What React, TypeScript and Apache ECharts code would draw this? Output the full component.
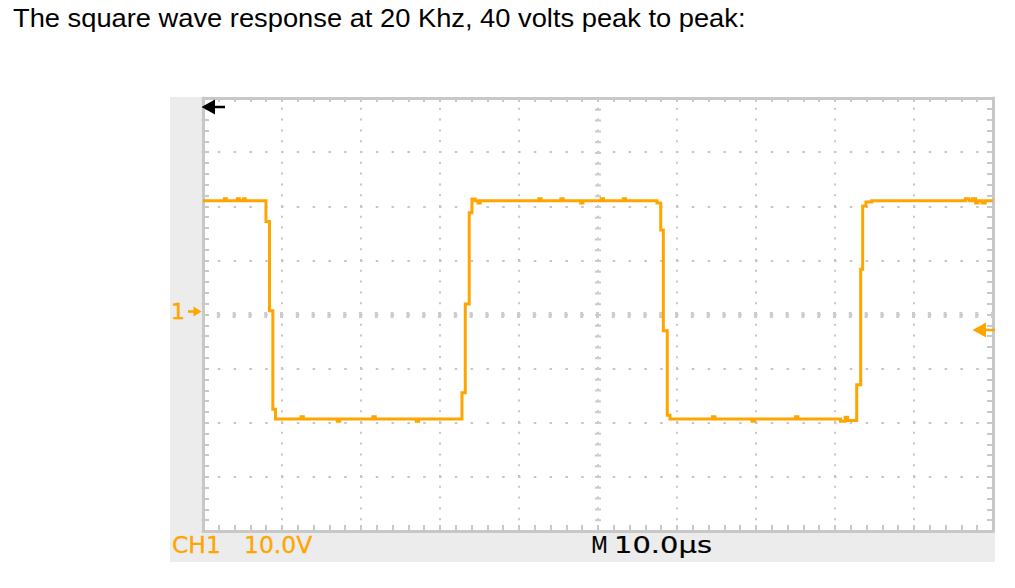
import React, { useEffect, useRef } from "react";
import * as echarts from "echarts";

// ---- data ----
const titleText = "The square wave response at 20 Khz, 40 volts peak to peak:";
const channelName = "CH1";
const voltsPerDivLabel = "10.0V";
const timebasePrefix = "M";
const timebaseLabel = "10.0µs";
const groundMarkerLabel = "1";

// time axis: 10 divisions of 10 µs ; volt axis: 8 divisions of 10 V
const timeRange = [0, 100];
const timeDiv = 10;
const voltRange = [-40, 40];
const voltDiv = 10;

const timeUs = [
  0, 2.7, 2.7, 2.95, 2.95, 4.35, 4.35, 4.6, 4.6, 5.1, 5.1, 5.35, 5.35, 7.97,
  7.97, 8.42, 8.42, 8.84, 8.84, 9.18, 9.18,
  12.4, 12.4, 12.7, 12.7, 17.0, 17.0, 17.3, 17.3, 21.5, 21.5, 21.8, 21.8, 27.0, 27.0, 27.3, 27.3,
  32.78,
  32.78, 33.2, 33.2, 33.7, 33.7, 34.05, 34.05, 34.45, 34.45, 34.8, 34.8, 35.1, 35.1,
  42.5, 42.5, 42.8, 42.8, 45.3, 45.3, 45.6, 45.6, 47.8, 47.8, 48.1, 48.1, 50.4, 50.4, 50.7, 50.7,
  53.2, 53.2, 53.5, 53.5, 57.47, 57.47, 57.94,
  57.94, 58.27, 58.27, 58.77, 58.77, 59.11, 59.11,
  64.5, 64.5, 64.8, 64.8, 69.5, 69.5, 69.8, 69.8, 75.0, 75.0, 75.3, 75.3,
  80.7, 80.7, 81.3, 81.3, 81.6, 81.6, 82.75,
  82.75, 83.25, 83.25, 83.5, 83.5, 83.92, 83.92, 84.65, 84.65,
  96.5, 96.5, 96.95, 96.95, 97.4, 97.4, 97.8, 97.8, 98.1, 98.1, 98.6, 98.6, 99.0, 99.0,
  100,
];
const voltsV = [
  21.0, 21.0, 21.4, 21.4, 21.0, 21.0, 21.4, 21.4, 21.0, 21.0, 21.4, 21.4, 21.0, 21.0,
  17.2, 17.2, 0.7, 0.7, -17.5, -17.5, -19.3,
  -19.3, -18.9, -18.9, -19.3, -19.3, -19.7, -19.7, -19.3, -19.3, -18.9, -18.9, -19.3, -19.3, -19.7, -19.7, -19.3,
  -19.3,
  -14.45, -14.45, 1.94, 1.94, 18.8, 18.8, 21.35, 21.35, 21.0, 21.0, 20.6, 20.6, 21.0,
  21.0, 21.4, 21.4, 21.0, 21.0, 21.4, 21.4, 21.0, 21.0, 20.6, 20.6, 21.0, 21.0, 21.4, 21.4, 21.0,
  21.0, 21.4, 21.4, 21.0, 21.0, 20.6, 20.6,
  15.6, 15.6, -3.0, -3.0, -18.6, -18.6, -19.3,
  -19.3, -18.9, -18.9, -19.3, -19.3, -19.7, -19.7, -19.3, -19.3, -18.9, -18.9, -19.3,
  -19.3, -19.7, -19.7, -19.0, -19.0, -19.6, -19.6,
  -13.0, -13.0, 8.35, 8.35, 20.05, 20.05, 20.8, 20.8, 21.0,
  21.0, 21.4, 21.4, 21.0, 21.0, 21.4, 21.4, 20.6, 20.6, 21.0, 21.0, 20.6, 20.6, 21.0,
  21.0,
];

const TRACE = "#ffa500";
const BORDER = "#c8c8c8";
const DOT = "#c6c6c6";
const DASH = "#cccccc";
const PANEL = "#ececec";

function edgeAxis(position: string, tickLen: number, range: number[], interval: number, split: any) {
  return {
    type: "value",
    min: range[0],
    max: range[1],
    interval,
    position,
    axisLine: { show: true, onZero: false, lineStyle: { color: BORDER, width: 3 } },
    axisTick: { show: true, inside: true, length: tickLen, lineStyle: { color: BORDER, width: 2 } },
    minorTick: { show: true, splitNumber: 5, length: tickLen, lineStyle: { color: BORDER, width: 2 } },
    axisLabel: { show: false },
    splitLine: split,
  };
}

function txt(
  text: string, x: number, y: number, size: number, family: string, fill: string,
  scaleX = 1, stroke = 0, z = 100
) {
  return {
    type: "text",
    x,
    y,
    scaleX,
    z,
    silent: true,
    style: {
      text,
      fill,
      stroke: stroke ? fill : undefined,
      lineWidth: stroke,
      fontSize: size,
      fontFamily: family,
      fontWeight: "normal",
      align: "left",
      textAlign: "left",
      verticalAlign: "middle",
      textVerticalAlign: "middle",
    },
  };
}

export default function App() {
  const ref = useRef<HTMLDivElement>(null);
  useEffect(() => {
    if (!ref.current) return;
    const chart = echarts.init(ref.current, null, { renderer: "svg" });
    const trace = timeUs.map((t, i) => [t, voltsV[i]]);
    const option: any = {
      animation: false,
      backgroundColor: "#ffffff",
      grid: { left: 203, top: 98, width: 790, height: 433, show: false },
      xAxis: [
        edgeAxis("bottom", 6, timeRange, timeDiv, {
          show: true,
          lineStyle: { color: DOT, width: 2, type: [2, 8.8], dashOffset: 1 },
        }),
        edgeAxis("top", 4, timeRange, timeDiv, { show: false }),
      ],
      yAxis: [
        edgeAxis("left", 6, voltRange, voltDiv, {
          show: true,
          lineStyle: { color: DOT, width: 2, type: [2.5, 13.3], dashOffset: 1.25 },
        }),
        edgeAxis("right", 6, voltRange, voltDiv, { show: false }),
      ],
      graphic: [
        { type: "rect", z: -10, silent: true, shape: { x: 170, y: 97, width: 825, height: 465 }, style: { fill: PANEL } },
        { type: "rect", z: -9, silent: true, shape: { x: 203, y: 98, width: 790, height: 433 }, style: { fill: "#ffffff" } },
        txt(titleText, 13, 18, 26, "Liberation Sans, Arial, sans-serif", "#000000", 1.05),
        // trigger-position marker (top left)
        { type: "polygon", z: 100, silent: true, shape: { points: [[201.5, 107], [215, 99.5], [215, 114.5]] }, style: { fill: "#000000" } },
        { type: "line", z: 100, silent: true, shape: { x1: 210, y1: 107, x2: 225, y2: 107 }, style: { stroke: "#000000", lineWidth: 2.5 } },
        // channel ground marker
        txt(groundMarkerLabel, 171, 311, 22, "DejaVu Sans, sans-serif", TRACE, 1, 0.5),
        { type: "polygon", z: 100, silent: true, shape: { points: [[201.5, 311.5], [193.5, 306.5], [193.5, 316.5]] }, style: { fill: TRACE } },
        { type: "line", z: 100, silent: true, shape: { x1: 188, y1: 311.5, x2: 195, y2: 311.5 }, style: { stroke: TRACE, lineWidth: 2.5 } },
        // trigger level marker (right)
        { type: "polygon", z: 100, silent: true, shape: { points: [[972.5, 330], [986, 322.5], [986, 337.5]] }, style: { fill: TRACE } },
        { type: "line", z: 100, silent: true, shape: { x1: 983, y1: 330, x2: 995, y2: 330 }, style: { stroke: TRACE, lineWidth: 2.5 } },
        // bottom readouts
        txt(channelName, 172, 545, 23, "DejaVu Sans, sans-serif", TRACE, 1.02, 0.25),
        txt(voltsPerDivLabel, 244, 545, 23, "DejaVu Sans, sans-serif", TRACE, 1.02, 0.25),
        txt(timebasePrefix, 591, 545, 23, "DejaVu Sans, sans-serif", "#000000", 0.85, 0.2),
        txt(timebaseLabel, 614, 545, 23, "DejaVu Sans, sans-serif", "#000000", 1.26, 0.2),
      ],
      series: [
        {
          type: "line",
          xAxisIndex: 0,
          yAxisIndex: 0,
          data: trace,
          showSymbol: false,
          symbol: "none",
          z: 3,
          silent: true,
          lineStyle: { color: TRACE, width: 3, cap: "butt", join: "miter" },
          markLine: {
            silent: true,
            z: 1,
            symbol: ["none", "none"],
            label: { show: false },
            emphasis: { disabled: true },
            data: [
              { yAxis: 0, lineStyle: { color: DASH, width: 6, type: [3, 12.8], dashOffset: 1.5 } },
              { xAxis: 50, lineStyle: { color: DASH, width: 6, type: [2, 8.8], dashOffset: 1 } },
            ],
          },
        },
      ],
    };
    chart.setOption(option);
    return () => chart.dispose();
  }, []);
  return (
    <div
      ref={ref}
      style={{ position: "fixed", left: 0, top: 0, width: 1015, height: 588 }}
    />
  );
}
